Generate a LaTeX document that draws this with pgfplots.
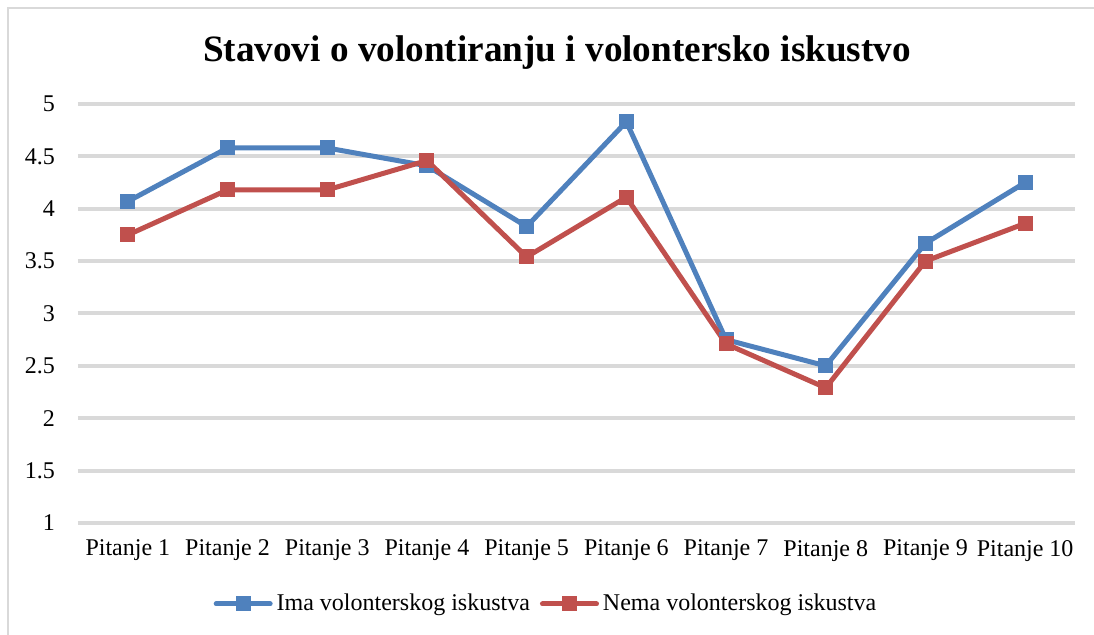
\documentclass[border=0pt]{standalone}
\usepackage{pgfplots}
\pgfplotsset{compat=1.18}
\usepackage{fontspec}
\setmainfont{Liberation Serif}
\definecolor{cblue}{HTML}{4F81BD}
\definecolor{cred}{HTML}{C0504D}
\definecolor{gridgray}{HTML}{D9D9D9}
\begin{document}
\begin{tikzpicture}
\useasboundingbox (-39pt,-56pt) rectangle (508pt,261.5pt);
\draw[gridgray,line width=1pt] (-35pt,-60pt) -- (-35pt,257.5pt) -- (512pt,257.5pt);
\begin{axis}[
  name=ax,
  at={(0,0)}, anchor=south west,
  scale only axis,
  width=498.5pt, height=209.5pt,
  xmin=0.5, xmax=10.5,
  ymin=1, ymax=5,
  xtick={1,...,10},
  xticklabels={Pitanje 1,Pitanje 2,Pitanje 3,Pitanje 4,Pitanje 5,Pitanje 6,Pitanje 7,Pitanje 8,Pitanje 9,Pitanje 10},
  ytick={1.5,2,2.5,3,3.5,4,4.5,5},
  extra y ticks={1},
  extra y tick style={grid style={gridgray,line width=0.9pt}},
  ymajorgrids,
  major grid style={gridgray,line width=2pt},
  axis line style={draw=none},
  major tick length=0pt,
  tick style={draw=none},
  /pgf/number format/assume math mode=true,
  ticklabel style={font=\fontsize{12}{14}\selectfont},
  yticklabel style={xshift=-8pt},
  xticklabel style={yshift=-5pt},
  clip=false,
  legend columns=2,
  legend style={at={(0.4704,-0.1933)}, anchor=center, draw=none,
    font=\fontsize{12}{14}\selectfont,
    /tikz/every even column/.append style={column sep=3pt},
    inner sep=0pt},
  legend image code/.code={%
    \draw[#1,line cap=round,mark repeat=2,mark phase=2] plot coordinates {(0pt,0pt) (13.5pt,0pt) (27pt,0pt)};},
]
\addplot[cblue, line width=2.5pt, mark=square*, mark size=3.5pt, mark options={solid,fill=cblue,line width=0pt}]
  coordinates {(1,4.07) (2,4.58) (3,4.58) (4,4.41) (5,3.83) (6,4.83) (7,2.75) (8,2.50) (9,3.67) (10,4.25)};
\addlegendentry{Ima volonterskog iskustva}
\addplot[cred, line width=2.5pt, mark=square*, mark size=3.5pt, mark options={solid,fill=cred,line width=0pt}]
  coordinates {(1,3.75) (2,4.18) (3,4.18) (4,4.46) (5,3.54) (6,4.11) (7,2.71) (8,2.29) (9,3.50) (10,3.86)};
\addlegendentry{Nema volonterskog iskustva}
\node[font=\fontsize{18.6}{22}\selectfont\bfseries, anchor=base] at ([yshift=21pt]rel axis cs:0.4805,1) {Stavovi o volontiranju i volontersko iskustvo};
\end{axis}
\end{tikzpicture}
\end{document}
